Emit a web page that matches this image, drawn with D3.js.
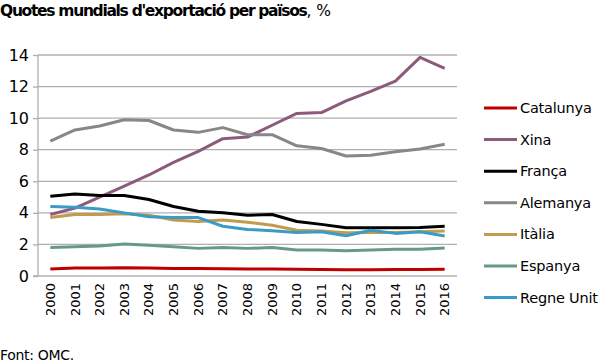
<!doctype html>
<html lang="ca">
<head>
<meta charset="utf-8">
<title>Quotes mundials d'exportació</title>
<script src="https://d3js.org/d3.v7.min.js"></script>
<style>
  body { margin: 0; background: #fff; font-family: "DejaVu Sans", sans-serif; }
  svg { display: block; }
  .title { font-size: 15.5px; font-weight: bold; letter-spacing: -1.3px; }
  .grid line { stroke: #b0b0b0; stroke-width: 1.3px; }
  .axis text { fill: #000; }
  .series { fill: none; stroke-width: 3px; stroke-linejoin: round; }
</style>
</head>
<body>
<script>
  const years = ['2000','2001','2002','2003','2004','2005','2006','2007','2008',
                 '2009','2010','2011','2012','2013','2014','2015','2016'];
  const yTicks = [0, 2, 4, 6, 8, 10, 12, 14];

  const catalunya = [0.45,0.50,0.50,0.52,0.50,0.48,0.47,0.46,0.45,0.44,0.42,0.41,0.40,0.40,0.41,0.41,0.42];
  const xina      = [3.9,4.3,5.0,5.7,6.4,7.2,7.9,8.7,8.8,9.55,10.3,10.35,11.1,11.7,12.35,13.85,13.15];
  const franca    = [5.05,5.2,5.1,5.1,4.85,4.4,4.1,4.0,3.85,3.9,3.45,3.27,3.06,3.05,3.05,3.08,3.15];
  const alemanya  = [8.55,9.25,9.5,9.9,9.85,9.25,9.1,9.4,8.95,8.95,8.25,8.08,7.6,7.65,7.87,8.05,8.35];
  const italia    = [3.7,3.9,3.9,3.95,3.85,3.55,3.45,3.55,3.4,3.22,2.9,2.85,2.74,2.75,2.75,2.8,2.85];
  const espanya   = [1.8,1.85,1.9,2.02,1.95,1.85,1.75,1.8,1.75,1.8,1.65,1.65,1.6,1.65,1.7,1.7,1.78];
  const regneUnit = [4.4,4.35,4.25,4.0,3.75,3.7,3.7,3.15,2.95,2.87,2.75,2.8,2.55,2.9,2.7,2.8,2.53];

  const seriesNames  = ['Catalunya','Xina','França','Alemanya','Itàlia','Espanya','Regne Unit'];
  const seriesValues = [catalunya, xina, franca, alemanya, italia, espanya, regneUnit];
  const seriesColors = ['#c00000','#8c5a7c','#000000','#878787','#c49a4c','#659a86','#3a9bc6'];

  const width = 600, height = 364;
  const margin = { top: 55, right: 143, bottom: 88, left: 38 };

  const svg = d3.select('body').append('svg')
      .attr('width', width)
      .attr('height', height);

  // title
  const title = svg.append('text')
      .attr('class', 'title')
      .attr('x', 0)
      .attr('y', 16);
  title.append('tspan').text("Quotes mundials d'exportació per països");
  title.append('tspan').attr('font-weight', 'normal').attr('letter-spacing', '0px').text(', %');

  const x = d3.scaleBand()
      .domain(years)
      .range([margin.left, width - margin.right]);

  const y = d3.scaleLinear()
      .domain([0, 14])
      .range([height - margin.bottom, margin.top]);

  // horizontal grid
  svg.append('g').attr('class', 'grid')
    .selectAll('line')
    .data(yTicks.filter(d => d > 0))
    .join('line')
      .attr('x1', margin.left)
      .attr('x2', width - margin.right)
      .attr('y1', d => y(d))
      .attr('y2', d => y(d));

  // y axis
  const yAxis = svg.append('g')
      .attr('class', 'axis')
      .attr('transform', `translate(${margin.left},0)`)
      .call(d3.axisLeft(y).tickValues(yTicks).tickSize(5).tickPadding(4));
  yAxis.select('.domain').attr('stroke', '#b0b0b0').attr('stroke-width', 1.3).attr('d', `M0,${y(14)}V${y(0)}`);
  yAxis.selectAll('.tick line').attr('stroke', '#b0b0b0').attr('stroke-width', 1.3);
  yAxis.selectAll('.tick text').attr('font-size', 16).attr('font-family', 'DejaVu Sans');

  // x axis
  const xAxis = svg.append('g')
      .attr('class', 'axis')
      .attr('transform', `translate(0,${y(0)})`)
      .call(d3.axisBottom(x).tickSize(0));
  xAxis.select('.domain').attr('stroke', '#b0b0b0').attr('stroke-width', 1.3)
      .attr('d', `M${margin.left - 5},0H${width - margin.right}`);
  xAxis.selectAll('.tick text')
      .attr('font-size', 13)
      .attr('font-family', 'DejaVu Sans')
      .attr('transform', 'rotate(-90)')
      .attr('text-anchor', 'end')
      .attr('x', -7)
      .attr('y', 0)
      .attr('dy', '0.35em');

  // lines
  const line = d3.line()
      .x((d, i) => x(years[i]) + x.bandwidth() / 2)
      .y(d => y(d));

  svg.append('g')
    .selectAll('path')
    .data(seriesValues)
    .join('path')
      .attr('class', 'series')
      .attr('stroke', (d, i) => seriesColors[i])
      .attr('d', line);

  // legend
  const legend = svg.append('g')
    .selectAll('g')
    .data(seriesNames)
    .join('g')
      .attr('transform', (d, i) => `translate(484,${108 + i * 31.6})`);

  legend.append('line')
      .attr('x1', 0).attr('x2', 33)
      .attr('stroke', (d, i) => seriesColors[i])
      .attr('stroke-width', 3);

  legend.append('text')
      .attr('x', 36)
      .attr('dy', '0.35em')
      .attr('font-size', 14.5)
      .attr('letter-spacing', '-0.2px')
      .text(d => d);

  svg.append('text')
      .attr('x', 0)
      .attr('y', 360)
      .attr('font-size', 14)
      .attr('letter-spacing', '-0.3px')
      .text('Font: OMC.');
</script>
</body>
</html>
